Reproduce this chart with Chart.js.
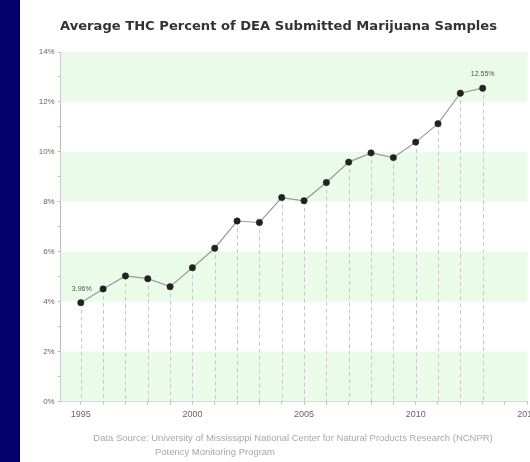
<!DOCTYPE html>
<html>
<head>
<meta charset="utf-8">
<script src="https://cdn.jsdelivr.net/npm/chart.js@4/dist/chart.umd.min.js"></script>
<style>
  html, body { margin: 0; padding: 0; background: #ffffff; }
  #wrap { position: relative; width: 530px; height: 462px; overflow: hidden; background: #ffffff; }
  #navy { position: absolute; left: 0; top: 0; width: 20px; height: 462px; background: #02026a; z-index: 2; }
  #c { position: absolute; left: 0; top: 0; }
</style>
</head>
<body>
<div id="wrap">
  <div id="navy"></div>
  <canvas id="c" width="560" height="462"></canvas>
</div>
<script>
// ---- data ----
const years = [1995, 1996, 1997, 1998, 1999, 2000, 2001, 2002, 2003, 2004, 2005, 2006, 2007, 2008, 2009, 2010, 2011, 2012, 2013];
const thcPercent = [3.96, 4.51, 5.03, 4.92, 4.60, 5.36, 6.14, 7.23, 7.17, 8.17, 8.04, 8.77, 9.59, 9.96, 9.77, 10.39, 11.13, 12.35, 12.55];
const xTickYears = [1995, 1996, 1997, 1998, 1999, 2000, 2001, 2002, 2003, 2004, 2005, 2006, 2007, 2008, 2009, 2010, 2011, 2012, 2013, 2014, 2015];
const xLabelYears = [1995, 2000, 2005, 2010, 2015];
const yTickValues = [0, 1, 2, 3, 4, 5, 6, 7, 8, 9, 10, 11, 12, 13, 14];
const yLabelValues = [0, 2, 4, 6, 8, 10, 12, 14];
const bandRanges = [[0, 2], [4, 6], [8, 10], [12, 14]];
const labelledPoints = [0, 18];
const titleText = "Average THC Percent of DEA Submitted Marijuana Samples";
const sourceLine1 = "Data Source: University of Mississippi National Center for Natural Products Research (NCNPR)";
const sourceLine2 = "Potency Monitoring Program";

const points = years.map((y, i) => ({ x: y, y: thcPercent[i] }));

function fitFont(ctx, text, family, weight, baseSize, targetWidth) {
  ctx.font = weight + ' ' + baseSize + 'px ' + family;
  const w = ctx.measureText(text).width;
  const size = baseSize * targetWidth / w;
  return weight + ' ' + size.toFixed(2) + 'px ' + family;
}

const bandsPlugin = {
  id: 'bands',
  beforeDatasetsDraw(chart) {
    const { ctx, chartArea, scales } = chart;
    ctx.save();
    ctx.fillStyle = '#ebfbe9';
    bandRanges.forEach(([a, b]) => {
      const y1 = scales.y.getPixelForValue(b);
      const y2 = scales.y.getPixelForValue(a);
      ctx.fillRect(chartArea.left, y1, chartArea.right - chartArea.left, y2 - y1);
    });
    const meta = chart.getDatasetMeta(0);
    ctx.strokeStyle = '#c8c8c8';
    ctx.lineWidth = 1;
    ctx.setLineDash([4, 3]);
    meta.data.forEach(pt => {
      const x = Math.round(pt.x) + 0.5;
      ctx.beginPath();
      ctx.moveTo(x, pt.y);
      ctx.lineTo(x, chartArea.bottom);
      ctx.stroke();
    });
    ctx.restore();
  },
  afterDatasetsDraw(chart) {
    const { ctx } = chart;
    const meta = chart.getDatasetMeta(0);
    ctx.save();
    ctx.fillStyle = '#555555';
    ctx.font = '7px "Liberation Sans", Arial, sans-serif';
    ctx.textAlign = 'center';
    ctx.textBaseline = 'middle';
    labelledPoints.forEach(i => {
      const pt = meta.data[i];
      ctx.fillText(thcPercent[i].toFixed(2) + '%', pt.x + (i === 0 ? 1 : 0), pt.y - 14);
    });
    ctx.restore();
  },
  afterDraw(chart) {
    const { ctx } = chart;
    ctx.save();
    ctx.fillStyle = '#333333';
    ctx.font = fitFont(ctx, titleText, '"DejaVu Sans", sans-serif', 'bold', 12, 437);
    ctx.textAlign = 'center';
    ctx.textBaseline = 'middle';
    ctx.fillText(titleText, 278.5, 27);
    ctx.fillStyle = '#a8a8a8';
    ctx.font = fitFont(ctx, sourceLine1, '"Liberation Sans", Arial, sans-serif', 'normal', 9, 400);
    ctx.fillText(sourceLine1, 293, 438);
    ctx.textAlign = 'left';
    ctx.fillText(sourceLine2, 155, 452);
    ctx.restore();
  }
};

new Chart(document.getElementById('c'), {
  type: 'line',
  data: {
    datasets: [{
      data: points,
      borderColor: '#9a9a9a',
      borderWidth: 1.2,
      pointRadius: 3.2,
      pointHoverRadius: 3.2,
      pointBackgroundColor: '#222222',
      pointBorderColor: '#222222',
      pointBorderWidth: 0.5,
      tension: 0,
      fill: false
    }]
  },
  options: {
    responsive: false,
    animation: false,
    devicePixelRatio: 1,
    layout: { padding: { left: 20, right: 32.7, top: 52, bottom: 0 } },
    plugins: { legend: { display: false }, tooltip: { enabled: false }, title: { display: false } },
    scales: {
      x: {
        type: 'linear',
        min: 1994.1,
        max: 2015,
        afterBuildTicks: s => { s.ticks = xTickYears.map(v => ({ value: v })); },
        afterFit: s => { s.height = 60.5; },
        ticks: {
          autoSkip: false,
          maxRotation: 0,
          padding: 5,
          color: '#666666',
          font: { family: '"Liberation Sans", Arial, sans-serif', size: 9 },
          callback: v => xLabelYears.includes(v) ? String(v) : ''
        },
        grid: { drawOnChartArea: false, drawTicks: true, tickLength: 3, color: '#bbbbbb' },
        border: { display: true, color: '#bbbbbb', width: 1 }
      },
      y: {
        min: 0,
        max: 14,
        afterBuildTicks: s => { s.ticks = yTickValues.map(v => ({ value: v })); },
        afterFit: s => { s.width = 40.7; },
        ticks: {
          autoSkip: false,
          padding: 3,
          color: '#666666',
          font: { family: '"Liberation Sans", Arial, sans-serif', size: 8 },
          callback: v => yLabelValues.includes(v) ? v + '%' : ''
        },
        grid: { drawOnChartArea: false, drawTicks: true, tickLength: 3, color: '#bbbbbb' },
        border: { display: true, color: '#bbbbbb', width: 1 }
      }
    }
  },
  plugins: [bandsPlugin]
});
</script>
</body>
</html>
